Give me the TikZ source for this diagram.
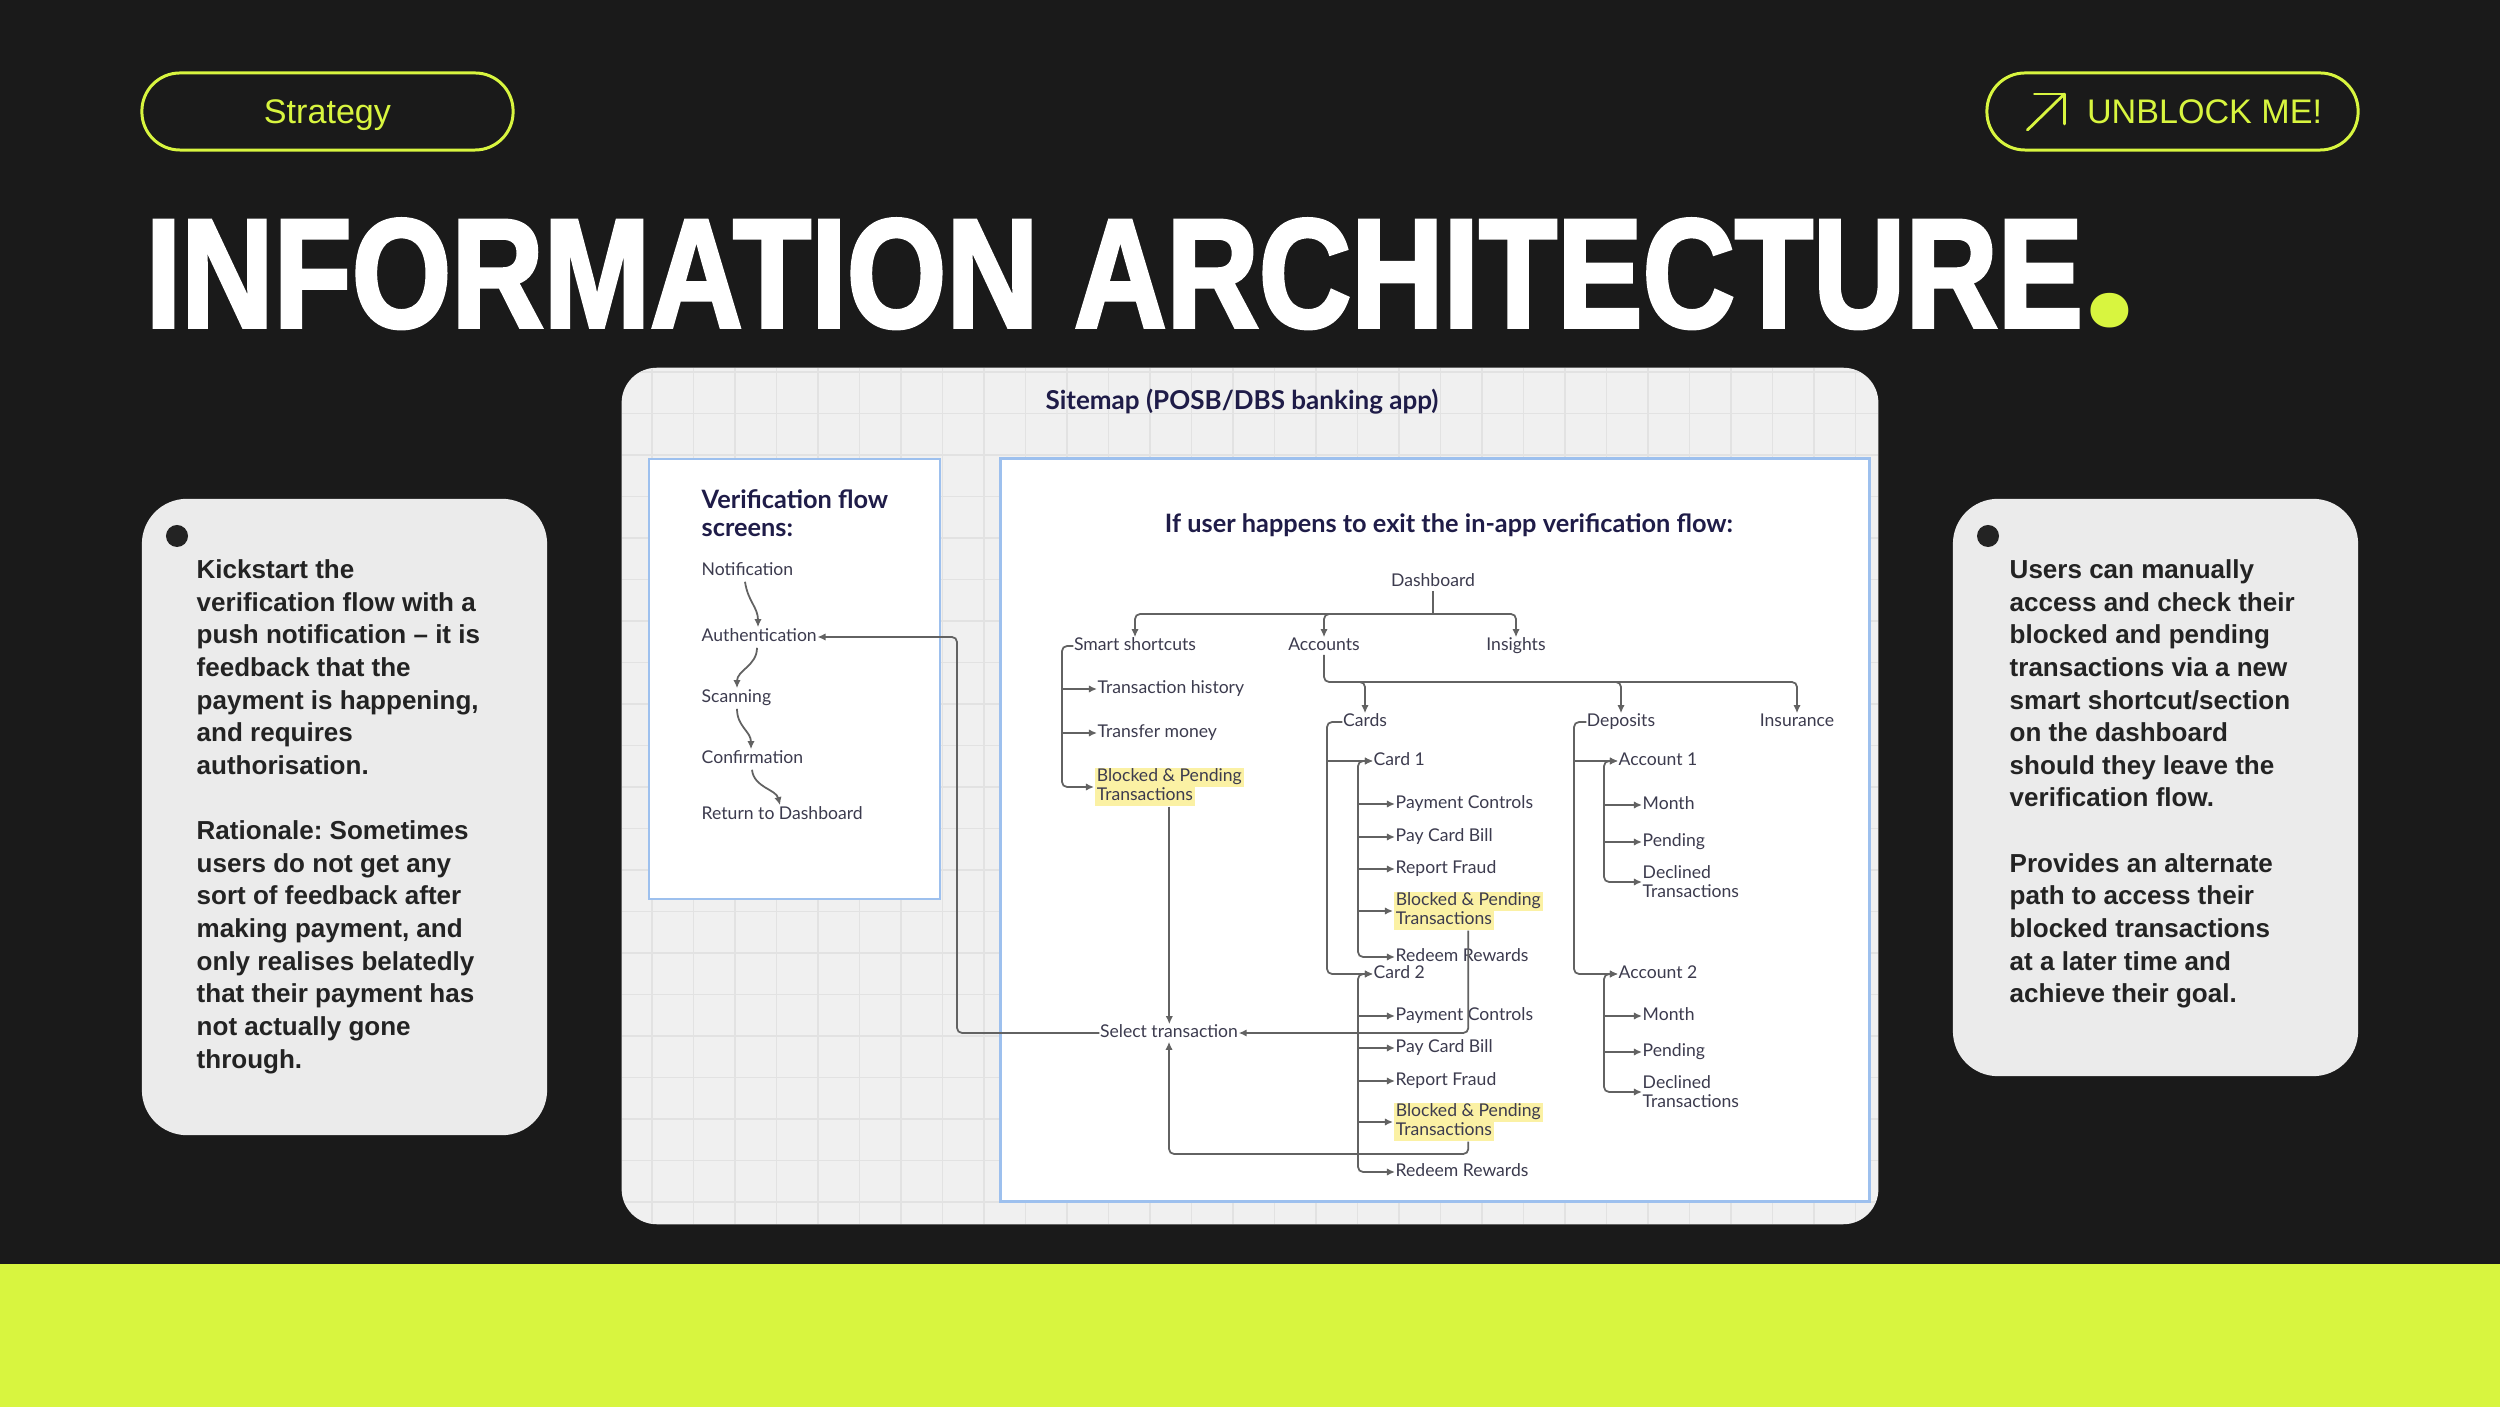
\documentclass[tikz,border=0pt]{standalone}
\usepackage{fontspec}
\usepackage{graphicx}
\setmainfont{Liberation Sans}
\newfontfamily\lato{Lato}
\newfontfamily\heavyfont{Liberation Sans Bold}[FakeBold=2.5]
\newfontfamily\poppins{Poppins}
\usetikzlibrary{arrows.meta}
\definecolor{bgdark}{HTML}{1A1A1A}
\definecolor{lime}{HTML}{D8F53F}
\definecolor{cardbg}{HTML}{EBEBEB}
\definecolor{panelbg}{HTML}{F0F0F0}
\definecolor{gridc}{HTML}{E2E2E2}
\definecolor{boxblue}{HTML}{9DC0EE}
\definecolor{navy}{HTML}{1F1C48}
\definecolor{lblcol}{HTML}{3C3B4E}
\definecolor{connc}{HTML}{626262}
\definecolor{hly}{HTML}{FBF1A4}
\definecolor{bodytext}{HTML}{232323}
\newcommand\hlt[1]{{\setlength{\fboxsep}{0pt}\colorbox{hly}{\rule[-1.5pt]{0pt}{5.4pt}\hspace{0.6pt}#1\hspace{0.6pt}}}}
\frenchspacing
\begin{document}
\begin{tikzpicture}[x=0.01cm,y=-0.01cm,
  conn/.style={draw=connc, line width=0.5pt, rounded corners=0.05cm},
  arr/.style={-{Latex[length=2.3pt,width=2.1pt]}},
  darr/.style={{Latex[length=2.3pt,width=2.1pt]}-{Latex[length=2.3pt,width=2.1pt]}},
  lbl/.style={font=\lato\fontsize{5}{5.4}\selectfont, text=lblcol, inner sep=0pt, anchor=west, text height=3.6pt, text depth=1pt},
  lblm/.style={lbl, anchor=center},
  lbltwo/.style={font=\lato\fontsize{5}{5.4}\selectfont, text=lblcol, inner sep=0pt, anchor=west, align=left},
  pill/.style={draw=lime, line width=0.85pt, rounded corners=0.38cm, minimum width=3.71cm, minimum height=0.77cm, text=lime, font=\fontsize{9.7}{11}\selectfont, inner sep=0pt},
  card/.style={fill=cardbg, rounded corners=0.45cm, minimum width=4.05cm, inner sep=0pt},
  body/.style={anchor=north west, inner sep=0pt, align=left, text=bodytext, font=\bfseries\fontsize{7.4}{9.28}\selectfont},
  bullet/.style={circle, fill=bodytext, minimum size=0.22cm, inner sep=0pt},
  bluebox/.style={draw=boxblue, fill=white, line width=0.75pt, inner sep=0pt},
  head/.style={font=\lato\bfseries, text=navy, inner sep=0pt}
]
% background
\fill[bgdark] (0,0) rectangle (2500,1407);
\useasboundingbox (0,0) rectangle (2500,1407);
\fill[lime] (0,1264) rectangle (2500,1407);

% header pills
\node[pill, text depth=0pt, text height=6.9pt] (strategy) at (327.5,111.5) {Strategy};
\node[pill] (unblock) at (2172.5,111.5) {\hspace{0.64cm}UNBLOCK ME!};
\draw[lime, line width=0.8pt, line cap=round] ([shift={(42,18.5)}]unblock.west) -- ([shift={(79,-17.5)}]unblock.west);
\draw[lime, line width=0.8pt, line cap=round, line join=round] ([shift={(49,-17.5)}]unblock.west) -- ([shift={(79,-17.5)}]unblock.west) -- ([shift={(79,12.5)}]unblock.west);

% title
\node[anchor=base west, inner sep=0pt, text=white, text depth=0pt, text height=1.08cm] (title) at (145,327)
  {\resizebox{19.36cm}{1.08cm}{\heavyfont INFORMATION ARCHITECTURE}\textcolor{lime}{\poppins\bfseries\fontsize{53}{56}\selectfont .}};

% side cards
\node[card, minimum height=6.36cm] (lcard) at (344.5,817) {};
\node[bullet] (lbul) at (177,536) {};
\node[body] (ltext) at (196,559) {Kickstart the\\verification flow with a\\push notification – it is\\feedback that the\\payment is happening,\\and requires\\authorisation.\\[9.28pt]Rationale: Sometimes\\users do not get any\\sort of feedback after\\making payment, and\\only realises belatedly\\that their payment has\\not actually gone\\through.};

\node[card, minimum height=5.77cm] (rcard) at (2155.5,787.5) {};
\node[bullet] (rbul) at (1988,536) {};
\node[body] (rtext) at (2009,559) {Users can manually\\access and check their\\blocked and pending\\transactions via a new\\smart shortcut/section\\on the dashboard\\should they leave the\\verification flow.\\[9.28pt]Provides an alternate\\path to access their\\blocked transactions\\at a later time and\\achieve their goal.};

% sitemap panel
\node[fill=panelbg, rounded corners=0.35cm, minimum width=12.56cm, minimum height=8.56cm, inner sep=0pt] (panel) at (1250,796) {};
\begin{scope}
\clip[rounded corners=0.35cm] (622,368) rectangle (1878,1224);
\foreach \i in {0,...,31} { \draw[gridc, line width=0.5pt] ({610.5+41.5*\i},368) -- ({610.5+41.5*\i},1224); }
\foreach \j in {0,...,21} { \draw[gridc, line width=0.5pt] (622,{372+41.5*\j}) -- (1878,{372+41.5*\j}); }
\end{scope}
\node[head, font=\lato\bfseries\fontsize{7.4}{8.8}\selectfont] (smtitle) at (1242,402) {Sitemap (POSB/DBS banking app)};

\node[bluebox, minimum width=2.91cm, minimum height=4.4cm] (vbox) at (794.5,679) {};
\node[bluebox, minimum width=8.68cm, minimum height=7.42cm] (mbox) at (1435,830) {};

% verification flow
\node[head, font=\lato\bfseries\fontsize{7.2}{8}\selectfont, anchor=west, align=left] (vhead) at (701,513) {Verification flow\\screens:};
\node[lbl] (notif) at (701,571) {Notification};
\node[lbl] (auth) at (701,637) {Authentication};
\node[lbl] (scan) at (701,698) {Scanning};
\node[lbl] (conf) at (701,759) {Confirmation};
\node[lbl] (ret) at (701,815) {Return to Dashboard};
\draw[conn,arr] ([shift={(44,2)}]notif.south west) .. controls +(3,20) and +(0,-20) .. ([shift={(57,-1)}]auth.north west);
\draw[conn,arr] ([shift={(56,2)}]auth.south west) .. controls +(0,18) and +(0,-18) .. ([shift={(36,-1)}]scan.north west);
\draw[conn,arr] ([shift={(36,2)}]scan.south west) .. controls +(0,18) and +(0,-18) .. ([shift={(50,-1)}]conf.north west);
\draw[conn,arr] ([shift={(51,2)}]conf.south west) .. controls +(2,18) and +(-4,-16) .. ([shift={(79,-1)}]ret.north west);

% sitemap tree
\node[head, font=\lato\bfseries\fontsize{7.2}{8.4}\selectfont] (iftitle) at (1449,525) {If user happens to exit the in-app verification flow:};
\node[lblm] (dash) at (1433,582) {Dashboard};
\node[lblm] (smart) at (1135,646) {Smart shortcuts};
\node[lblm] (accounts) at (1324,646) {Accounts};
\node[lblm] (insights) at (1516,646) {Insights};
\node[lbl] (txh) at (1097,689) {Transaction history};
\node[lbl] (txm) at (1097,733) {Transfer money};
\node[lbltwo] (blk0) at (1094,787) {\hlt{Blocked \& Pending}\\\hlt{Transactions}};
\node[lblm] (select) at (1169,1033) {Select transaction};

\node[lblm] (cards) at (1365,722) {Cards};
\node[lblm] (deposits) at (1621,722) {Deposits};
\node[lblm] (insurance) at (1797,722) {Insurance};
\node[lbl] (card1) at (1373,761) {Card 1};
\node[lbl] (card2) at (1373,974) {Card 2};
\node[lbl] (c1pc) at (1395,804) {Payment Controls};
\node[lbl] (c1pb) at (1395,837) {Pay Card Bill};
\node[lbl] (c1rf) at (1395,869) {Report Fraud};
\node[lbltwo] (c1bp) at (1393,911) {\hlt{Blocked \& Pending}\\\hlt{Transactions}};
\node[lbl] (c1rr) at (1395,957) {Redeem Rewards};
\node[lbl] (c2pc) at (1395,1016) {Payment Controls};
\node[lbl] (c2pb) at (1395,1048) {Pay Card Bill};
\node[lbl] (c2rf) at (1395,1081) {Report Fraud};
\node[lbltwo] (c2bp) at (1393,1122) {\hlt{Blocked \& Pending}\\\hlt{Transactions}};
\node[lbl] (c2rr) at (1395,1172) {Redeem Rewards};

\node[lbl] (acc1) at (1618,761) {Account 1};
\node[lbl] (acc2) at (1618,974) {Account 2};
\node[lbl] (a1m) at (1642,805) {Month};
\node[lbl] (a1p) at (1642,842) {Pending};
\node[lbltwo] (a1d) at (1642,882) {Declined\\Transactions};
\node[lbl] (a2m) at (1642,1016) {Month};
\node[lbl] (a2p) at (1642,1052) {Pending};
\node[lbltwo] (a2d) at (1642,1092) {Declined\\Transactions};

\coordinate (smx) at (1062,0);
\coordinate (cdx) at (1327,0);
\coordinate (cix) at (1358,0);
\coordinate (dpx) at (1574,0);
\coordinate (aix) at (1604,0);
\coordinate (bus) at (1433,614);
\coordinate (abus) at (1324,682);

% dashboard level
\draw[conn] (dash.south) -- (bus);
\draw[conn,arr] (bus) -| (smart.north);
\draw[conn,arr] (bus) -| (accounts.north);
\draw[conn,arr] (bus) -| (insights.north);

% smart shortcuts
\draw[conn,arr] (smart.west) -| (smx |- txm.west) |- (blk0.west);
\draw[conn,arr] (txh.west -| smx) -- (txh.west);
\draw[conn,arr] (txm.west -| smx) -- (txm.west);
\draw[conn,arr] (blk0.south) -- (blk0.south |- select.north);

% accounts
\draw[conn,arr] (accounts.south) |- ([xshift=2cm]abus) -| (insurance.north);
\draw[conn,arr] ([shift={(20,0)}]abus) -| (cards.north);
\draw[conn,arr] ([shift={(280,0)}]abus) -| (deposits.north);

% cards
\draw[conn,arr] (cards.west) -| (cdx |- c1pc.west) |- (card2.west);
\draw[conn,arr] (card1.west -| cdx) -- (card1.west);
\draw[conn,darr] (card1.west) -| (cix |- c1pc.west) |- (c1rr.west);
\draw[conn,arr] (c1pc.west -| cix) -- (c1pc.west);
\draw[conn,arr] (c1pb.west -| cix) -- (c1pb.west);
\draw[conn,arr] (c1rf.west -| cix) -- (c1rf.west);
\draw[conn,arr] (c1bp.west -| cix) -- (c1bp.west);
\draw[conn,darr] (card2.west) -| (cix |- c2pc.west) |- (c2rr.west);
\draw[conn,arr] (c2pc.west -| cix) -- (c2pc.west);
\draw[conn,arr] (c2pb.west -| cix) -- (c2pb.west);
\draw[conn,arr] (c2rf.west -| cix) -- (c2rf.west);
\draw[conn,arr] (c2bp.west -| cix) -- (c2bp.west);

% deposits
\draw[conn,arr] (deposits.west) -| (dpx |- a1m.west) |- (acc2.west);
\draw[conn,arr] (acc1.west -| dpx) -- (acc1.west);
\draw[conn,darr] (acc1.west) -| (aix |- a1m.west) |- (a1d.west);
\draw[conn,arr] (a1m.west -| aix) -- (a1m.west);
\draw[conn,arr] (a1p.west -| aix) -- (a1p.west);
\draw[conn,darr] (acc2.west) -| (aix |- a2m.west) |- (a2d.west);
\draw[conn,arr] (a2m.west -| aix) -- (a2m.west);
\draw[conn,arr] (a2p.west -| aix) -- (a2p.west);

% blocked -> select transaction
\draw[conn,arr] (c1bp.south) |- (select.east);
\draw[conn,arr] (c2bp.south) |- (1300,1154) -| (select.south);
\draw[conn,arr] (select.west) -| (957,800) |- (auth.east);
\end{tikzpicture}
\end{document}
